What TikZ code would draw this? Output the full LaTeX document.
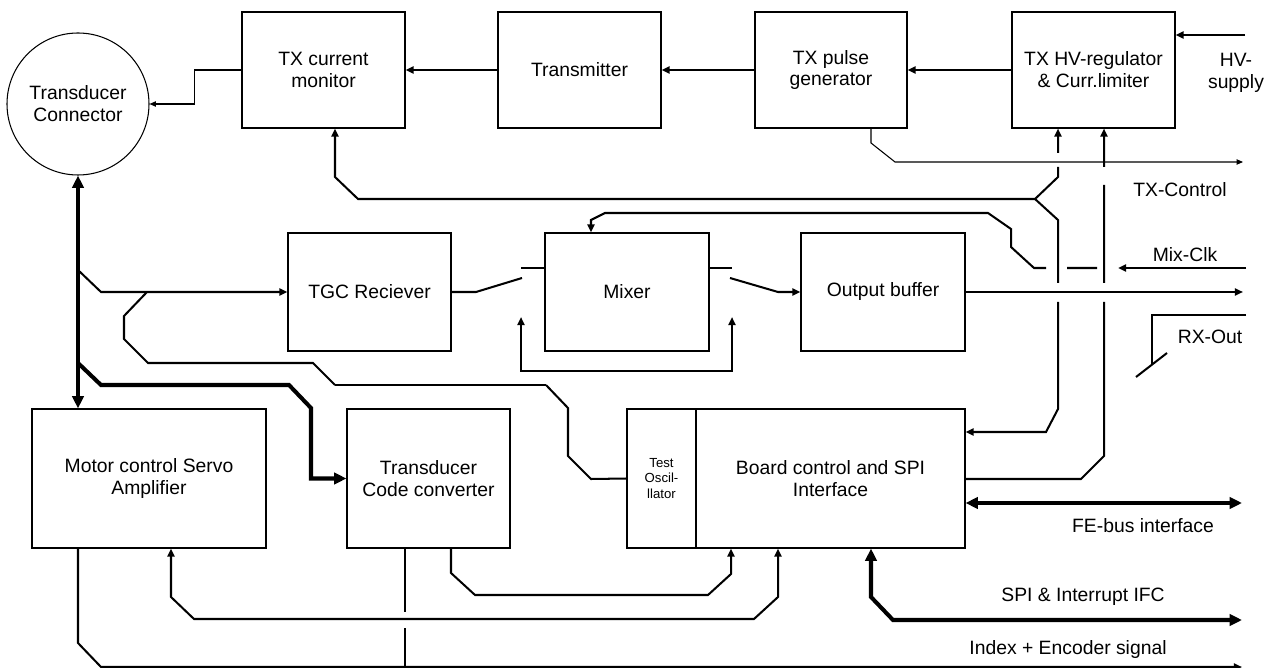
\documentclass[tikz,border=0pt]{standalone}
\usepackage{fontspec}
\setmainfont{Liberation Sans}
\usetikzlibrary{arrows.meta}

\begin{document}
\begin{tikzpicture}[x=0.02cm, y=-0.02cm,
    box/.style 2 args={draw, line width=0.6pt, minimum width=#1*0.02cm,
        minimum height=#2*0.02cm, inner sep=0pt, align=center,
        font=\fontsize{11}{12.5}\selectfont},
    lbl/.style={align=center, font=\fontsize{11}{12.5}\selectfont},
    thinsig/.style={line width=0.6pt, >={Triangle[length=3.6pt,width=3pt]}},
    sig/.style={line width=1.15pt, >={Triangle[length=4.6pt,width=4pt]}},
    bus/.style={line width=2.3pt, >={Triangle[length=7pt,width=6.4pt]}}]

\useasboundingbox (0,0) rectangle (1270,668);

% Transmit chain
\node[box={163}{116}] (mon) at (323.5,70) {TX current\\monitor};
\node[box={163}{116}] (tx) at (579.5,70) {Transmitter};
\node[box={152}{116}] (pulse) at (831,70) {TX pulse\\generator};
\node[box={163}{116}] (hv) at (1093.5,70) {TX HV-regulator\\\& Curr.limiter};

% Transducer connector
\node[draw, circle, line width=0.6pt, minimum size=142*0.02cm, inner sep=0pt, lbl]
    (conn) at (78,104) {Transducer\\Connector};

% Receive chain
\node[box={163}{118}] (tgc) at (369.5,292) {TGC Reciever};
\node[box={164}{118}] (mix) at (627,292) {Mixer};
\node[box={164}{118}] (obuf) at (883,292) {Output buffer};

% Lower row
\node[box={234}{139}] (motor) at (149,478.5) {Motor control Servo\\Amplifier};
\node[box={163}{139}] (tcc) at (428.5,478.5) {Transducer\\Code converter};
\node[box={69}{139}, font=\fontsize{7.5}{8.8}\selectfont] (osc) at (661.5,478.5) {Test\\Oscil-\\llator};
\node[box={269}{139}] (board) at (830.5,478.5) {Board control and SPI\\Interface};

% Outside connections
\coordinate (hvsup) at (1245,35);
\coordinate (txctl) at (1243,162);
\coordinate (mixclk) at (1246,268);
\coordinate (rxout) at (1243,292);
\coordinate (febus) at (1242,503);
\coordinate (spi) at (1242,620);
\coordinate (index) at (1242,667);

\node[lbl] (hvlbl) at (1236,73) {HV-\\supply};
\node[lbl] (txlbl) at (1180,190) {TX-Control};
\node[lbl] (mclbl) at (1185,255) {Mix-Clk};
\node[lbl] (rxlbl) at (1210,337) {RX-Out};
\node[lbl] (felbl) at (1143,526) {FE-bus interface};
\node[lbl] (spilbl) at (1083,597) {SPI \& Interrupt IFC};
\node[lbl] (idxlbl) at (1068,649) {Index + Encoder signal};

% Transmit path
\draw[sig,->] (hvsup) -- (hvsup -| hv.east);
\draw[sig,->] (hv.west) -- (pulse.east);
\draw[sig,->] (pulse.west) -- (tx.east);
\draw[sig,->] (tx.west) -- (mon.east);
\draw[thinsig,->] (mon.west) -- ++(-47,0) |- (conn.east);
\draw[thinsig,->] (pulse.south -| 871,0) -- (871,143) -- (895,162) -- (txctl);

% Control lines to HV regulator and current monitor
\coordinate (jctl) at (1035,199);
\draw[sig,->] (jctl) -- (1058,177) -- (1058,167) (1058,153) -- (hv.south -| 1058,0);
\draw[sig,->] (jctl) -- (358,199) -- (335,177) -- (mon.south -| 335,0);
\draw[sig,->] (jctl) -- (1058,220) -- (1058,283) (1058,302) -- (1058,409)
    -- (1046,432) -- (board.east |- 0,432);
\draw[sig,->] (board.east |- 0,479) -- (1081,479) -- (1104,456) -- (1104,302)
    (1104,283) -- (1104,185) (1104,167) -- (hv.south -| 1104,0);

% Transducer bus
\draw[bus,<->] (conn.south) -- (motor.north -| 78,0);
\draw[sig,->] (78,270) -- (101,292) -- (tgc.west);
\draw[bus,->] (78,363) -- (101,385) -- (289,385) -- (311,408) |- (tcc.west);

% Test oscillator
\draw[sig] (147,292) -- (124,316) -- (124,339) -- (148,363) -- (313,363) -- (335,385);
\draw[thinsig] (335,385) -- (546,385);
\draw[sig] (546,385) -- (568,408) -- (568,456) -- (591,479) -- (osc.west);

% Mixer and switches
\draw[sig] (tgc.east) -- (476,292) -- (522,278);
\draw[sig] (521,268) -- (mix.west |- 0,268);
\draw[sig] (mix.east |- 0,268) -- (732,268);
\draw[sig,->] (730,278) -- (778,292) -- (obuf.west);
\draw[sig,<->] (521,317) -- (521,371) -- (732,371) -- (732,317);
\draw[sig,->] (mixclk) -- (1118,268);
\draw[sig,->] (1097,268) -- (1067,268) (1046,268) -- (1034,268) -- (1011,247)
    -- (1011,229) -- (988,213) -- (605,213) -- (591,220) -- (mix.north -| 591,0);

% Receiver output
\draw[sig,->] (obuf.east) -- (rxout);
\draw[sig] (1246,315) -| (1152,365);
\draw[sig] (1136,377) -- (1167,353);

% Board interfaces
\draw[bus,<->] (board.east |- 0,503) -- (febus);
\draw[bus,<->] (board.south -| 871,0) -- (871,597) -- (893,620) -- (spi);
\draw[sig,->] (tcc.south -| 451,0) -- (451,573) -- (475,595) -- (708,595)
    -- (731,574) -- (board.south -| 731,0);
\draw[sig,<->] (motor.south -| 171,0) -- (171,597) -- (194,619) -- (754,619)
    -- (778,597) -- (board.south -| 778,0);

% Index and encoder
\draw[sig,->] (motor.south -| 78,0) -- (78,643) -- (101,667) -- (index);
\draw[sig] (tcc.south -| 405,0) -- (405,612) (405,628) -- (405,667);

\end{tikzpicture}
\end{document}
